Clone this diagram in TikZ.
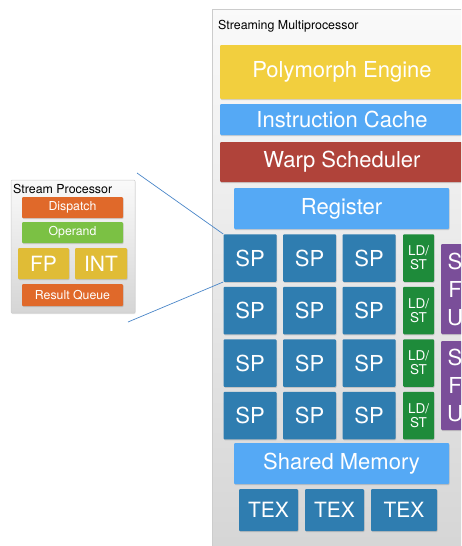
\documentclass[tikz,border=0pt]{standalone}
\usepackage{fontspec}
\setmainfont{TeX Gyre Heros}
\usetikzlibrary{shadows}
\definecolor{spblue}{HTML}{2F7DB0}
\definecolor{ltblue}{HTML}{55A9F5}
\definecolor{pyellow}{HTML}{F2CF3E}
\definecolor{wred}{HTML}{B0433A}
\definecolor{ldgreen}{HTML}{1E8B3A}
\definecolor{sfupurple}{HTML}{7A4E99}
\definecolor{dorange}{HTML}{E0692A}
\definecolor{opgreen}{HTML}{7BC144}
\definecolor{fpyellow}{HTML}{E0BC36}
\definecolor{linkblue}{HTML}{4A86C8}
\tikzset{
  unit/.style={inner sep=0pt, rounded corners=1pt, text=white,
    drop shadow={shadow xshift=0.6pt, shadow yshift=-1pt, opacity=0.3}},
  spbox/.style={unit, fill=spblue, minimum width=53pt, minimum height=47.5pt, font=\fontsize{22}{24}\selectfont},
  ldbox/.style={unit, fill=ldgreen, minimum width=31pt, minimum height=47.5pt, font=\fontsize{13.5}{14}\selectfont, align=center},
  sfubox/.style={unit, fill=sfupurple, minimum width=28pt, font=\fontsize{22}{28}\selectfont, align=center},
  texbox/.style={unit, fill=spblue, minimum height=42pt, font=\fontsize{21}{23}\selectfont},
  wide/.style={unit, font=\fontsize{22}{24}\selectfont},
  small/.style={unit, font=\fontsize{12.3}{14}\selectfont},
  panel/.style={draw=gray!40, line width=0.5pt, top color=gray!4, bottom color=gray!33},
  title/.style={anchor=west, inner sep=0pt, font=\fontsize{12.4}{14}\selectfont},
  link/.style={draw=linkblue, line width=0.7pt}
}
\begin{document}
\begin{tikzpicture}[x=1pt, y=-1pt]
\useasboundingbox (0,0) rectangle (461,546);
\clip (0,0) rectangle (461,546);
% Streaming Multiprocessor panel
\node[panel, minimum width=258pt, minimum height=551pt, inner sep=0pt] (sm) at (341,284.5) {};
\node[title] (smt) at (218,26) {Streaming Multiprocessor};
\node[wide, fill=pyellow, minimum width=244pt, minimum height=54pt] (poly) at (342,72) {Polymorph Engine};
\node[wide, fill=ltblue, minimum width=244pt, minimum height=31pt] (icache) at (342,119.5) {Instruction Cache};
\node[wide, fill=wred, minimum width=244pt, minimum height=40pt] (warp) at (342,162) {Warp Scheduler};
\node[wide, fill=ltblue, minimum width=215pt, minimum height=41pt] (reg) at (341.5,208.5) {Register};
% SP grid
\foreach \r/\y in {1/258,2/310.5,3/363,4/415.5}{
  \node[spbox] (sp\r1) at (250,\y) {SP};
  \node[spbox] (sp\r2) at (309.5,\y) {SP};
  \node[spbox] (sp\r3) at (369,\y) {SP};
  \node[ldbox] (ld\r) at (418.5,\y) {LD/\\ST};
}
\node[sfubox, minimum height=90pt] (sfu1) at (455,289) {S\\F\\U};
\node[sfubox, minimum height=89pt] (sfu2) at (455,385.5) {S\\F\\U};
\node[wide, fill=ltblue, minimum width=215pt, minimum height=41pt] (smem) at (341.5,463.5) {Shared Memory};
\node[texbox, minimum width=59pt] (tex1) at (268.5,510) {TEX};
\node[texbox, minimum width=59pt] (tex2) at (334.5,510) {TEX};
\node[texbox, minimum width=66pt] (tex3) at (404,510) {TEX};
% Stream Processor panel
\node[panel, minimum width=124pt, minimum height=133pt, inner sep=0pt, rounded corners=1pt,
  drop shadow={shadow xshift=0.5pt, shadow yshift=-1pt, opacity=0.2}] (spp) at (73,246.5) {};
\node[title] (sppt) at (13,189) {Stream Processor};
\node[small, fill=dorange, minimum width=101pt, minimum height=21pt] (disp) at (72.5,207.5) {Dispatch};
\node[small, fill=opgreen, minimum width=101pt, minimum height=21pt] (oper) at (72.5,232.5) {Operand};
\node[unit, fill=fpyellow, minimum width=51pt, minimum height=31pt, font=\fontsize{21}{23}\selectfont] (fp) at (43.5,263.5) {FP};
\node[unit, fill=fpyellow, minimum width=52pt, minimum height=31pt, font=\fontsize{21}{23}\selectfont] (int) at (101,263.5) {INT};
\node[unit, fill=dorange, minimum width=101pt, minimum height=22pt, font=\fontsize{12.3}{14}\selectfont] (rq) at (72.5,295) {Result Queue};
% zoom lines
\coordinate (l1) at (137,173);
\coordinate (l2) at (128,322);
\draw[link] (l1) -- (sp11.north west);
\draw[link] (l2) -- (sp11.south west);
\end{tikzpicture}
\end{document}
